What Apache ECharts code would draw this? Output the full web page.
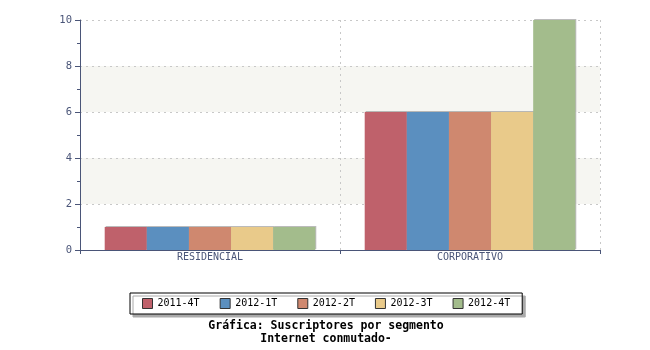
<!DOCTYPE html>
<html><head><meta charset="utf-8">
<script src="https://cdn.jsdelivr.net/npm/echarts@6/dist/echarts.min.js"></script>
<style>html,body{margin:0;padding:0;background:#fff}#c{width:650px;height:350px}</style>
</head><body><div id="c"></div>
<script>
var categories = ['RESIDENCIAL', 'CORPORATIVO'];
var seriesNames = ['2011-4T', '2012-1T', '2012-2T', '2012-3T', '2012-4T'];
var s2011_4T = [1, 6];
var s2012_1T = [1, 6];
var s2012_2T = [1, 6];
var s2012_3T = [1, 6];
var s2012_4T = [1, 10];
var colors = ['#bf616b', '#5b8fbf', '#cf886f', '#e9ca8a', '#a3bc8c'];
var values = [s2011_4T, s2012_1T, s2012_2T, s2012_3T, s2012_4T];
var font = '"DejaVu Sans Mono", monospace';
var axisCol = '#4a5578';

var chart = echarts.init(document.getElementById('c'));
chart.setOption({
  animation: false,
  color: colors,
  title: {
    text: 'Gráfica: Suscriptores por segmento\nInternet conmutado-',
    left: 321, textAlign: 'center', top: 315,
    textStyle: {fontFamily: font, fontSize: 11.5, fontWeight: 'bold', color: '#000', lineHeight: 13}
  },
  legend: {
    data: seriesNames,
    left: 130, top: 293,
    orient: 'horizontal',
    padding: [5, 12, 5, 12],
    itemGap: 20, itemWidth: 10, itemHeight: 10,
    icon: 'rect',
    backgroundColor: '#fff', borderColor: '#000', borderWidth: 1,
    shadowColor: '#aaa', shadowOffsetX: 3, shadowOffsetY: 3, shadowBlur: 0,
    itemStyle: {borderColor: '#333', borderWidth: 1},
    textStyle: {fontFamily: font, fontSize: 10, color: '#000'}
  },
  grid: {left: 80, right: 50, top: 20, bottom: 100, containLabel: false},
  xAxis: {
    type: 'category', data: categories,
    axisLine: {lineStyle: {color: axisCol, width: 1}},
    axisTick: {show: true, length: 4, lineStyle: {color: axisCol}},
    axisLabel: {fontFamily: font, fontSize: 10, color: axisCol, margin: 2},
    splitLine: {show: true, lineStyle: {color: '#c8c8c8', type: [2, 4]}}
  },
  yAxis: {
    type: 'value', min: 0, max: 10, interval: 2,
    axisLine: {show: true, lineStyle: {color: axisCol, width: 1}},
    axisTick: {show: true, length: 5, lineStyle: {color: axisCol}},
    minorTick: {show: true, splitNumber: 2, length: 3, lineStyle: {color: axisCol}},
    axisLabel: {fontFamily: font, fontSize: 10.5, color: axisCol, margin: 8},
    splitLine: {show: true, lineStyle: {color: '#c8c8c8', type: [2, 4]}},
    splitArea: {show: true, areaStyle: {color: ['rgba(255,255,255,0)', '#f6f6f2']}}
  },
  series: seriesNames.map(function (n, i) {
    return {
      name: n, type: 'bar', data: values[i],
      barGap: '0%', barCategoryGap: '19%',
      itemStyle: {color: colors[i], shadowColor: 'rgba(120,120,120,0.5)', shadowOffsetX: 1, shadowOffsetY: -1, shadowBlur: 0}
    };
  })
});
</script>
</body></html>
